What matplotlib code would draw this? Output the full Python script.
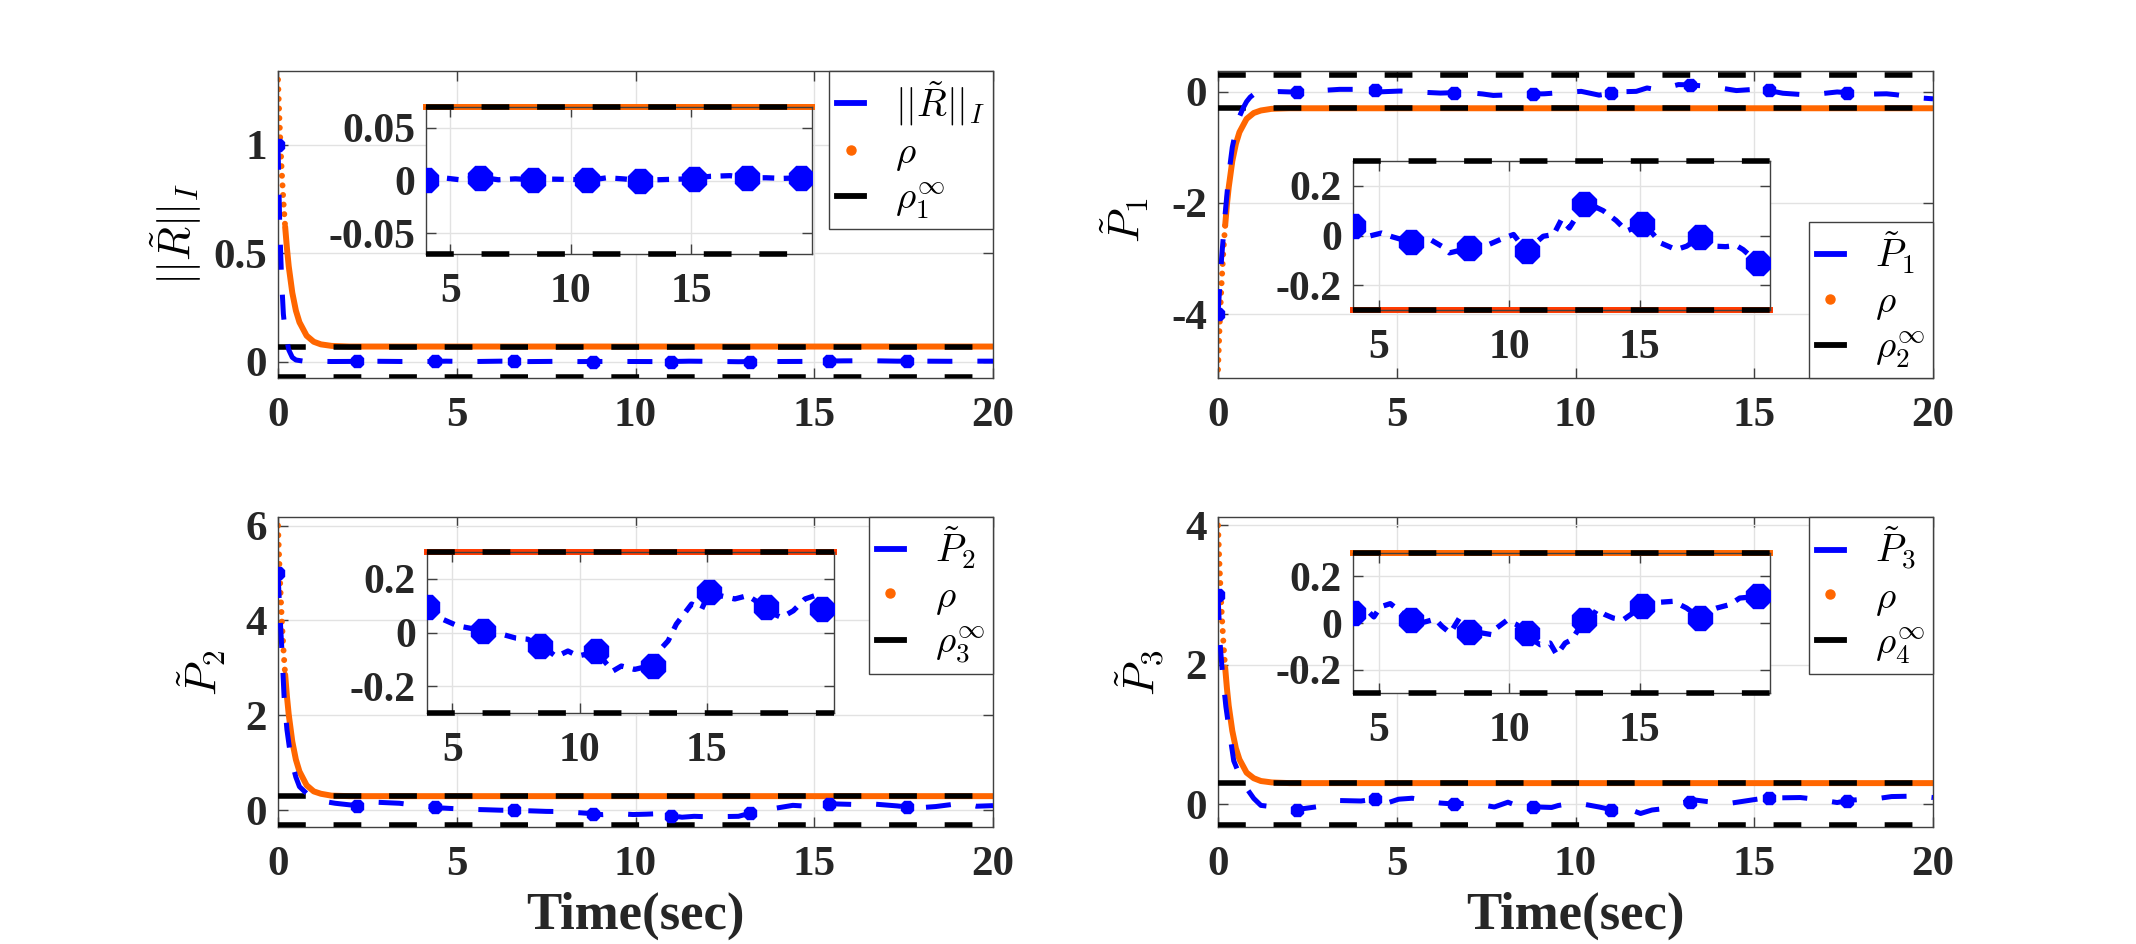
import numpy as np
import matplotlib
matplotlib.use('Agg')
import matplotlib.pyplot as plt
from matplotlib.lines import Line2D

plt.rcParams['mathtext.fontset'] = 'cm'
plt.rcParams['font.family'] = 'Liberation Serif'

# ---- prescribed performance envelope rho(t) ----
rho_t = [0.0, 0.01, 0.02, 0.03, 0.04, 0.05, 0.06, 0.07, 0.08, 0.09, 0.10,
         0.11, 0.12, 0.13, 0.14, 0.15, 0.16, 0.17, 0.18, 0.19, 0.20,
         0.25, 0.3, 0.4, 0.5, 0.6, 0.8, 1.0, 1.2, 1.5, 2.0, 20.0]
rho_R = [1.300, 1.252, 1.205, 1.161, 1.118, 1.077, 1.038, 1.000, 0.963, 0.929, 0.894,
         0.862, 0.831, 0.802, 0.772, 0.745, 0.718, 0.694, 0.669, 0.646, 0.622,
         0.523, 0.440, 0.318, 0.236, 0.182, 0.120, 0.092, 0.080, 0.073, 0.070, 0.070]
rho_P1 = [-5.0, -4.82, -4.64, -4.47, -4.30, -4.15, -4.0, -3.85, -3.71, -3.58, -3.45,
          -3.33, -3.21, -3.10, -2.98, -2.88, -2.78, -2.68, -2.59, -2.50, -2.41,
          -2.03, -1.72, -1.25, -0.94, -0.73, -0.49, -0.385, -0.34, -0.31, -0.30, -0.30]
rho_P2 = [6.0, 5.78, 5.56, 5.36, 5.16, 4.97, 4.79, 4.61, 4.44, 4.28, 4.12,
          3.97, 3.83, 3.69, 3.56, 3.43, 3.30, 3.19, 3.08, 2.97, 2.86,
          2.40, 2.02, 1.45, 1.07, 0.82, 0.53, 0.40, 0.35, 0.31, 0.30, 0.30]
rho_P3 = [4.0, 3.86, 3.72, 3.58, 3.45, 3.33, 3.21, 3.10, 2.99, 2.88, 2.78,
          2.68, 2.59, 2.50, 2.41, 2.33, 2.25, 2.18, 2.10, 2.03, 1.96,
          1.66, 1.41, 1.05, 0.80, 0.64, 0.45, 0.37, 0.33, 0.31, 0.30, 0.30]
rho_inf = [0.07, 0.3, 0.3, 0.3]

# ---- errors (blue) ----
t_R = [0, 0.05, 0.1, 0.15, 0.2, 0.3, 0.4, 0.5, 0.7, 1.0,
       1.5, 2.2, 2.8, 3.4, 4.0, 4.4, 4.7, 5.4, 6.22, 6.6,
       7.0, 7.7, 8.44, 8.8, 9.2, 10.0, 10.66, 11.0, 11.5, 12.2,
       12.88, 13.2, 13.6, 14.3, 15.1, 15.4, 15.8, 16.6, 17.32, 17.6,
       18.1, 18.8, 19.54, 20.0]
v_R = [1.0, 0.62, 0.38, 0.22, 0.14, 0.055, 0.02, 0.008, 0.003, 0.002,
       0.001, 0.0015, 0.002, 0.0012, 0.0007, 0.0015, 0.0026, 0.0007, 0.0026, 0.002,
       0.0007, 0.0016, 0.0007, 0.001, 0.0013, 0.001, 0.0007, 0.001, 0.0026, 0.0015,
       0.0, 0.0005, 0.0007, 0.0012, 0.0016, 0.003, 0.004, 0.0046, 0.0026, 0.0026,
       0.0026, 0.002, 0.0026, 0.0026]

t_P1 = [0, 0.1, 0.2, 0.3, 0.4, 0.5, 0.6, 0.7, 0.8, 0.9,
        1.0, 1.3, 1.7, 2.2, 2.6, 2.9, 3.4, 4.0, 4.4, 4.6,
        5.1, 5.5, 6.22, 6.6, 6.96, 7.4, 7.7, 8.1, 8.44, 8.8,
        9.13, 9.7, 10.16, 10.66, 11.0, 11.3, 11.7, 12.0, 12.3, 12.88,
        13.2, 13.6, 14.1, 14.5, 15.1, 15.4, 15.8, 16.4, 16.8, 17.32,
        17.6, 17.9, 18.3, 18.7, 18.97, 19.54, 20.0]
v_P1 = [-4.0, -3.0, -2.2, -1.5, -1.0, -0.7, -0.45, -0.3, -0.18, -0.1,
        -0.05, -0.02, 0.0, -0.01, 0.01, 0.02, 0.04, 0.04, 0.02, -0.003,
        0.01, -0.005, -0.027, -0.02, -0.016, -0.043, -0.07, -0.06, -0.05, -0.045,
        -0.04, -0.014, 0.004, -0.064, -0.03, -0.003, 0.004, 0.065, 0.03, 0.126,
        0.12, 0.1, 0.06, 0.018, 0.045, 0.02, -0.03, -0.057, -0.043, -0.007,
        -0.02, -0.043, -0.045, -0.04, -0.057, -0.11, -0.13]

t_P2 = [0, 0.05, 0.1, 0.17, 0.25, 0.36, 0.5, 0.6, 0.88, 1.2,
        1.6, 2.2, 2.8, 3.4, 4.0, 4.4, 4.6, 5.2, 5.8, 6.22,
        6.6, 7.04, 7.5, 7.96, 8.44, 8.8, 9.08, 9.54, 9.93, 10.3,
        10.66, 11.0, 11.3, 11.64, 12.16, 12.5, 12.88, 13.2, 13.48, 13.8,
        14.4, 14.8, 15.1, 15.4, 16.1, 16.6, 17.32, 17.6, 17.94, 18.4,
        18.86, 19.25, 19.54, 20.0]
v_P2 = [5.0, 4.2, 3.5, 2.4, 1.7, 1.1, 0.7, 0.5, 0.3, 0.2,
        0.15, 0.1, 0.17, 0.15, 0.094, 0.07, 0.05, 0.025, 0.014, 0.004,
        0.0, -0.009, -0.021, -0.025, -0.05, -0.07, -0.09, -0.069, -0.0875, -0.08,
        -0.069, -0.11, -0.144, -0.125, -0.1375, -0.13, -0.125, -0.06, -0.031, 0.031,
        0.106, 0.0875, 0.15, 0.14, 0.125, 0.1375, 0.094, 0.07, 0.056, 0.081,
        0.125, 0.1375, 0.0875, 0.1]

t_P3 = [0, 0.06, 0.12, 0.22, 0.33, 0.44, 0.6, 0.78, 1.0, 1.2,
        1.7, 2.2, 2.9, 3.4, 4.0, 4.4, 4.8, 5.05, 5.43, 6.22,
        6.6, 6.84, 7.15, 7.41, 7.73, 8.11, 8.44, 8.8, 9.33, 9.52,
        9.9, 10.28, 10.66, 11.0, 11.18, 11.56, 11.82, 12.14, 12.4, 12.88,
        13.2, 13.35, 13.67, 13.99, 14.37, 15.1, 15.4, 15.78, 16.29, 16.8,
        17.32, 17.6, 17.95, 18.46, 18.84, 19.54, 20.0]
v_P3 = [3.0, 2.3, 1.9, 1.4, 1.0, 0.62, 0.42, 0.24, 0.08, -0.02,
        -0.05, -0.08, -0.03, 0.05, 0.043, 0.07, 0.026, 0.069, 0.083, 0.014,
        0.0, 0.007, 0.017, -0.014, -0.043, 0.026, -0.04, -0.04, -0.05, -0.021,
        0.011, -0.007, -0.043, -0.08, -0.093, -0.086, -0.136, -0.086, -0.071, 0.014,
        0.03, 0.057, 0.036, 0.021, 0.014, 0.071, 0.09, 0.089, 0.093, 0.064,
        0.021, 0.05, 0.064, 0.079, 0.107, 0.114, 0.093]

# times at which the filled markers sit
mk_main_t = [0, 2.2, 4.4, 6.6, 8.8, 11.0, 13.2, 15.4, 17.6]
mk_inset_t = [4.0, 6.22, 8.44, 10.66, 12.88, 15.1, 17.32, 19.54]

ylabels = [r'$||\tilde{R}||_I$', r'$\tilde{P}_1$', r'$\tilde{P}_2$', r'$\tilde{P}_3$']
leg_labels = [[r'$||\tilde{R}||_I$', r'$\rho$', r'$\rho_1^{\infty}$'],
              [r'$\tilde{P}_1$', r'$\rho$', r'$\rho_2^{\infty}$'],
              [r'$\tilde{P}_2$', r'$\rho$', r'$\rho_3^{\infty}$'],
              [r'$\tilde{P}_3$', r'$\rho$', r'$\rho_4^{\infty}$']]

BLUE = '#0000ff'
ORANGE = '#ff6600'
W, H = 2136, 944


def px_box(x0, x1, y0, y1):
    # pixel box -> figure fraction [left, bottom, width, height]
    return [x0 / W, 1 - y1 / H, (x1 - x0) / W, (y1 - y0) / H]


def style_axes(ax, xticks, yticks, ylabs, size):
    ax.set_xticks(xticks)
    ax.set_xticklabels([str(x) for x in xticks], fontsize=size, fontweight='bold', color='#262626')
    ax.set_yticks(yticks)
    ax.set_yticklabels(ylabs, fontsize=size, fontweight='bold', color='#262626')
    ax.tick_params(direction='in', length=7, width=1, top=True, right=True, color='#404040')
    ax.tick_params(axis='x', pad=14)
    ax.tick_params(axis='y', pad=8)
    ax.grid(True, color='#e2e2e2', lw=1.0)
    ax.set_axisbelow(True)
    for s in ax.spines.values():
        s.set_color('#404040')
        s.set_linewidth(1.0)


def draw_main(ax, t, v, rho, rinf, ylim, yticks, ylabs):
    t = np.array(t)
    v = np.array(v)
    # dotted head of rho (sparse samples) and solid tail
    ax.plot(rho_t[:21], rho[:21], color=ORANGE, lw=4.3, ls=(0, (0.01, 1.6)),
            dash_capstyle='round', zorder=2)
    ax.plot(rho_t[20:], rho[20:], color=ORANGE, lw=4.3, solid_capstyle='round', zorder=2)
    for lvl in (rinf, -rinf):
        ax.plot([0, 20], [lvl, lvl], color='k', lw=4.0, dashes=(5, 5), zorder=3)
    idx = [int(np.argmin(np.abs(t - m))) for m in mk_main_t]
    ax.plot(t, v, color=BLUE, lw=3.6, dashes=(5, 5), marker='8', ms=10,
            markevery=idx, zorder=4)
    ax.set_xlim(0, 20)
    ax.set_ylim(*ylim)
    style_axes(ax, [0, 5, 10, 15, 20], yticks, ylabs, 31)


def draw_inset(ax, t, v, rinf, sign, ylim, yticks, ylabs, ocolor):
    t = np.array(t)
    v = np.array(v)
    keep = t >= 4.0
    ti, vi = t[keep], v[keep]
    ax.plot([4, 20], [sign * rinf, sign * rinf], color=ocolor, lw=4.3,
            clip_on=False, zorder=2)
    for lvl in (rinf, -rinf):
        ax.plot([4, 20], [lvl, lvl], color='k', lw=4.0, dashes=(5, 5),
                clip_on=False, zorder=3)
    idx = [int(np.argmin(np.abs(ti - m))) for m in mk_inset_t]
    ax.plot(ti, vi, color=BLUE, lw=3.8, dashes=(2.2, 1.8), marker='8', ms=18,
            markevery=idx, zorder=4)
    ax.set_xlim(4, 20)
    ax.set_ylim(*ylim)
    style_axes(ax, [5, 10, 15], yticks, ylabs, 30)


def add_legend(ax, labels, loc):
    handles = [Line2D([], [], color=BLUE, lw=4.2),
               Line2D([], [], color=ORANGE, ls='none', marker='o', ms=6.5),
               Line2D([], [], color='k', lw=4.2)]
    leg = ax.legend(handles, labels, loc=loc, fontsize=28, frameon=True, fancybox=False,
                    edgecolor='#404040', framealpha=1, borderaxespad=0,
                    handlelength=0.7, handletextpad=0.8, borderpad=0.2,
                    labelspacing=0.2)
    leg.get_frame().set_linewidth(1.0)
    leg.set_zorder(10)


fig = plt.figure(figsize=(W / 100, H / 100), dpi=100)

main_boxes = [px_box(278, 993, 71, 378), px_box(1218, 1933, 71, 378),
              px_box(278, 993, 517, 827), px_box(1218, 1933, 517, 827)]
inset_boxes = [px_box(426, 812, 107, 254), px_box(1353, 1770, 161, 310),
               px_box(427, 834, 552, 713), px_box(1353, 1770, 553, 693)]

series = [(t_R, v_R, rho_R), (t_P1, v_P1, rho_P1), (t_P2, v_P2, rho_P2), (t_P3, v_P3, rho_P3)]
signs = [1, -1, 1, 1]
main_ylims = [(-0.075, 1.34), (-5.15, 0.37), (-0.35, 6.18), (-0.33, 4.12)]
main_yticks = [[0, 0.5, 1], [-4, -2, 0], [0, 2, 4, 6], [0, 2, 4]]
main_ylabs = [['0', '0.5', '1'], ['-4', '-2', '0'], ['0', '2', '4', '6'], ['0', '2', '4']]
inset_ylims = [(-0.07, 0.07), (-0.3, 0.3), (-0.3, 0.3), (-0.3, 0.3)]
inset_yticks = [[-0.05, 0, 0.05], [-0.2, 0, 0.2], [-0.2, 0, 0.2], [-0.2, 0, 0.2]]
inset_ylabs = [['-0.05', '0', '0.05'], ['-0.2', '0', '0.2'], ['-0.2', '0', '0.2'], ['-0.2', '0', '0.2']]
inset_colors = [ORANGE, '#ff3a00', '#ff3a00', ORANGE]
leg_locs = ['upper right', 'lower right', 'upper right', 'upper right']
ylabel_xy = [(176, 234), (1125, 220), (202, 673), (1140, 673)]

for i in range(4):
    t, v, rho = series[i]
    ax = fig.add_axes(main_boxes[i])
    draw_main(ax, t, v, rho, rho_inf[i], main_ylims[i], main_yticks[i], main_ylabs[i])
    add_legend(ax, leg_labels[i], leg_locs[i])
    fig.text(ylabel_xy[i][0] / W, 1 - ylabel_xy[i][1] / H, ylabels[i], rotation=90,
             ha='center', va='center', fontsize=32)
    axi = fig.add_axes(inset_boxes[i])
    draw_inset(axi, t, v, rho_inf[i], signs[i], inset_ylims[i], inset_yticks[i],
               inset_ylabs[i], inset_colors[i])

for xc in (635, 1575):
    fig.text(xc / W, 1 - 916 / H, 'Time(sec)', ha='center', va='center',
             fontsize=38, fontweight='bold', color='#262626')

fig.savefig('out.png', dpi=100)
